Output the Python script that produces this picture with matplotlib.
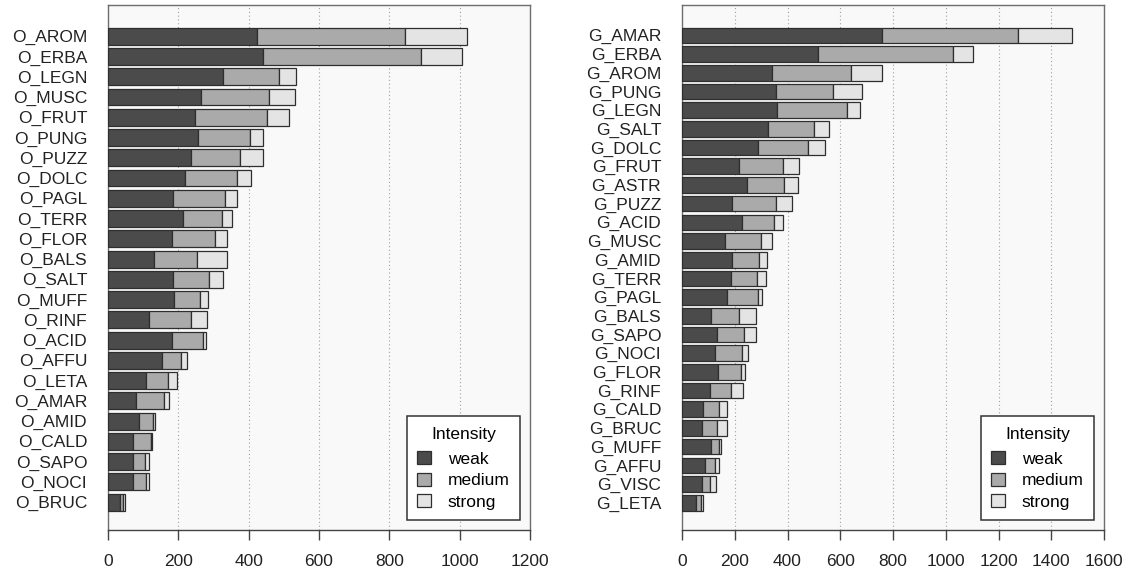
"""
Stacked horizontal bars of odour (O_) and taste (G_) descriptors by intensity
"""
import numpy as np
import matplotlib.pyplot as plt
from matplotlib.patches import Patch

plt.rcParams['font.family'] = ['Liberation Sans', 'DejaVu Sans']

INTENSITY = ["weak", "medium", "strong"]
COLORS = ["#4b4b4b", "#aaaaaa", "#e4e4e4"]
EDGE = "#2e2e2e"
FONT = 12.5

## Odour descriptors (top to bottom)
o_names = ["O_AROM", "O_ERBA", "O_LEGN", "O_MUSC", "O_FRUT", "O_PUNG", "O_PUZZ", "O_DOLC",
           "O_PAGL", "O_TERR", "O_FLOR", "O_BALS", "O_SALT", "O_MUFF", "O_RINF", "O_ACID",
           "O_AFFU", "O_LETA", "O_AMAR", "O_AMID", "O_CALD", "O_SAPO", "O_NOCI", "O_BRUC"]
o_weak = [425, 440, 326, 265, 248, 256, 237, 218, 184, 213, 182, 131, 185, 187, 116, 183,
          153, 109, 81, 87, 71, 71, 71, 35]
o_medium = [420, 451, 160, 193, 205, 148, 137, 148, 150, 111, 123, 121, 101, 76, 121, 88,
            54, 61, 77, 41, 51, 35, 36, 7]
o_strong = [176, 116, 49, 75, 62, 38, 66, 40, 32, 29, 34, 85, 41, 21, 44, 8,
            17, 25, 16, 6, 3, 12, 10, 7]

## Taste descriptors (top to bottom)
g_names = ["G_AMAR", "G_ERBA", "G_AROM", "G_PUNG", "G_LEGN", "G_SALT", "G_DOLC", "G_FRUT",
           "G_ASTR", "G_PUZZ", "G_ACID", "G_MUSC", "G_AMID", "G_TERR", "G_PAGL", "G_BALS",
           "G_SAPO", "G_NOCI", "G_FLOR", "G_RINF", "G_CALD", "G_BRUC", "G_MUFF", "G_AFFU",
           "G_VISC", "G_LETA"]
g_weak = [757, 516, 342, 355, 359, 325, 288, 215, 245, 189, 227, 164, 189, 185, 171, 110,
          134, 126, 138, 105, 78, 77, 111, 88, 74, 52]
g_medium = [518, 511, 299, 218, 267, 175, 191, 167, 141, 169, 122, 137, 104, 101, 117, 108,
            102, 103, 85, 80, 64, 56, 30, 38, 31, 21]
g_strong = [203, 78, 117, 111, 48, 59, 63, 63, 52, 60, 35, 41, 29, 33, 17, 64,
            43, 22, 17, 47, 29, 38, 7, 14, 24, 8]


def stacked_panel(ax, names, weak, medium, strong, xmax):
    n = len(names)
    # R barplot layout: width 1, space 0.2, listed from the top
    pos = 0.7 + 1.2 * np.arange(n)[::-1]
    left = np.zeros(n)
    for vals, col in zip([weak, medium, strong], COLORS):
        vals = np.asarray(vals, dtype=float)
        ax.barh(pos, vals, height=1.0, left=left, color=col, edgecolor=EDGE,
                linewidth=0.9, zorder=3)
        left += vals

    lo, hi = 0.2, 1.2 * n + 0.2
    ext = 0.04 * (hi - lo)
    ax.set_ylim(lo - ext, hi + ext)
    ax.set_xlim(0, xmax)
    ax.set_facecolor("#f9f9f9")

    ticks = np.arange(0, xmax + 1, 200)
    ax.set_xticks(ticks)
    ax.set_xticklabels([str(t) for t in ticks], fontsize=FONT, color="#222222")
    for t in ticks[1:-1]:
        ax.axvline(t, color="#a0a0a0", linestyle=(0, (1, 2.4)), linewidth=0.8, zorder=1)

    ax.set_yticks(pos)
    ax.set_yticklabels(names, fontsize=FONT, color="#222222")
    ax.tick_params(axis="y", length=0, pad=15)
    ax.tick_params(axis="x", length=7, width=1.0, color="#444444", pad=10)

    for side in ["top", "left", "right"]:
        ax.spines[side].set_color("#6e6e6e")
        ax.spines[side].set_linewidth(1.0)
    ax.spines["bottom"].set_color("#444444")
    ax.spines["bottom"].set_linewidth(1.0)

    handles = [Patch(facecolor=c, edgecolor=EDGE, linewidth=0.9, label=l)
               for c, l in zip(COLORS, INTENSITY)]
    leg = ax.legend(handles=handles, title="Intensity", loc="lower right",
                    fontsize=FONT, title_fontsize=FONT, fancybox=False, framealpha=1,
                    edgecolor="#333333", borderaxespad=0.55, handlelength=0.8,
                    handleheight=0.8, handletextpad=0.95, labelspacing=0.33,
                    borderpad=0.62)
    # wider gap between the title and the entries, as in the original
    leg._legend_box.sep = 0.4 * FONT * 100 / 72
    leg.get_frame().set_linewidth(1.1)
    leg.set_zorder(5)


def main():
    fig = plt.figure(figsize=(11.26, 5.79), dpi=100)
    ax1 = fig.add_axes([108 / 1126, 49 / 579, 422 / 1126, 525 / 579])
    ax2 = fig.add_axes([682 / 1126, 49 / 579, 422 / 1126, 525 / 579])

    stacked_panel(ax1, o_names, o_weak, o_medium, o_strong, 1200)
    stacked_panel(ax2, g_names, g_weak, g_medium, g_strong, 1600)

    fig.savefig("out.png", dpi=100, facecolor="white")
    plt.close(fig)


if __name__ == "__main__":
    main()
